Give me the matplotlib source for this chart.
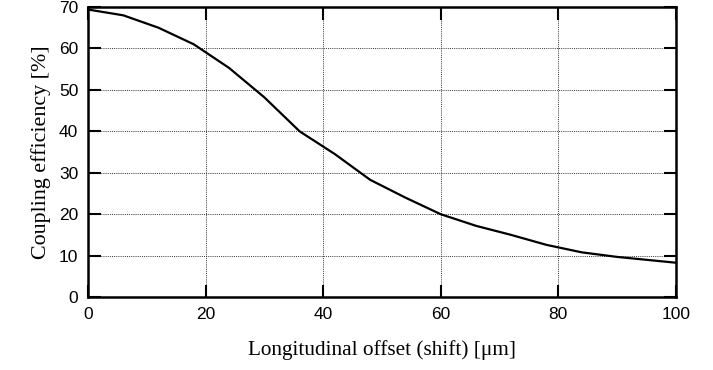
import matplotlib
matplotlib.use("Agg")
import matplotlib.pyplot as plt

# Data
offset = [0, 6, 12, 18, 24, 30, 36, 42, 48, 54, 60, 66, 72, 78, 84, 90, 100]
efficiency = [69.4, 68.0, 65.0, 61.0, 55.3, 48.2, 40.0, 34.5, 28.3, 24.0, 20.0, 17.2, 15.0, 12.6, 10.8, 9.7, 8.3]

x_ticks = [0, 20, 40, 60, 80, 100]
y_ticks = [0, 10, 20, 30, 40, 50, 60, 70]

fig = plt.figure(figsize=(7.13, 3.70), dpi=100)
ax = fig.add_axes([0.1234, 0.197, 0.8246, 0.784])

ax.plot(offset, efficiency, color="black", linewidth=1.6)

ax.set_xlim(0, 100)
ax.set_ylim(0, 70)
ax.set_xticks(x_ticks)
ax.set_yticks(y_ticks)

ax.grid(True, linestyle=(0, (1, 1.2)), color="#333333", linewidth=0.7)
ax.tick_params(direction="in", length=9, width=1.5, top=True, right=True,
               labelsize=12.5, pad=7)
for lab in ax.get_xticklabels() + ax.get_yticklabels():
    lab.set_family("Liberation Sans")
for sp in ax.spines.values():
    sp.set_linewidth(1.8)

ax.set_xlabel("Longitudinal offset (shift) [μm]", family="Liberation Serif",
              fontsize=15.3, labelpad=13)
ax.set_ylabel("Coupling efficiency [%]", family="Liberation Serif",
              fontsize=15.8, labelpad=6)

fig.savefig("out.png", dpi=100)
